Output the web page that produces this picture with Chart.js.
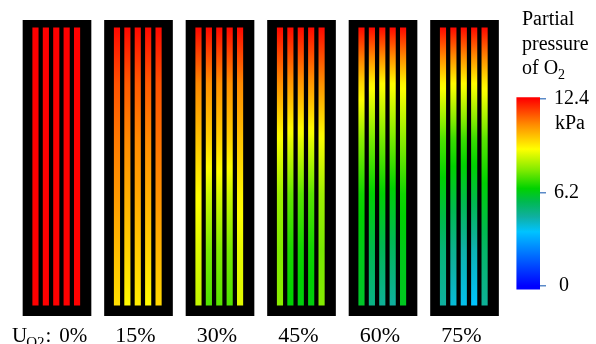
<!DOCTYPE html>
<html>
<head>
<meta charset="utf-8">
<script src="https://cdn.jsdelivr.net/npm/chart.js@4.4.1/dist/chart.umd.min.js"></script>
<style>
  html, body { margin: 0; padding: 0; background: #fff; }
  #wrap { width: 596px; height: 344px; }
</style>
</head>
<body>
<div id="wrap"><canvas id="chart"></canvas></div>
<script>
// O2 utilisation of each panel
const utilizations = ["0%", "15%", "30%", "45%", "60%", "75%"];

// where the profiles were read along the channel (0 = inlet at top, 1 = outlet)
const channelPos = [0, 0.2, 0.4, 0.6, 0.8, 1.0];

// partial pressure of O2 in kPa along each of the 5 channels, one list per panel
const pO2_0 = [
  [12.4, 12.4, 12.4, 12.4, 12.4, 12.4],
  [12.4, 12.4, 12.4, 12.4, 12.4, 12.4],
  [12.4, 12.4, 12.4, 12.4, 12.4, 12.4],
  [12.4, 12.4, 12.4, 12.4, 12.4, 12.4],
  [12.4, 12.4, 12.4, 12.4, 12.4, 12.4]
];
const pO2_15 = [
  [12.3, 11.4, 10.9, 10.5, 10.0, 9.5],
  [12.3, 11.3, 10.7, 10.2, 9.7, 9.1],
  [12.3, 11.3, 10.7, 10.3, 9.8, 9.3],
  [12.3, 11.3, 10.7, 10.2, 9.7, 9.1],
  [12.3, 11.4, 11.0, 10.6, 10.1, 9.6]
];
const pO2_30 = [
  [12.3, 10.7, 9.9, 9.1, 8.7, 8.4],
  [12.3, 10.6, 9.7, 8.5, 7.6, 7.2],
  [12.3, 10.6, 9.7, 8.6, 7.7, 7.3],
  [12.3, 10.6, 9.7, 8.5, 7.6, 7.2],
  [12.3, 10.7, 9.9, 9.2, 8.8, 8.7]
];
const pO2_45 = [
  [12.3, 10.6, 9.0, 8.0, 7.7, 7.8],
  [12.3, 10.5, 8.8, 7.4, 6.7, 6.4],
  [12.3, 10.5, 8.8, 7.3, 6.6, 6.3],
  [12.3, 10.5, 8.8, 7.3, 6.6, 6.3],
  [12.3, 10.6, 9.0, 8.0, 7.6, 7.7]
];
const pO2_60 = [
  [12.3, 9.6, 7.8, 6.6, 6.2, 6.0],
  [12.3, 9.2, 7.6, 6.4, 5.6, 4.9],
  [12.3, 9.1, 7.6, 6.4, 5.5, 4.7],
  [12.3, 9.1, 7.6, 6.3, 5.4, 4.6],
  [12.3, 9.2, 7.8, 6.6, 6.2, 6.1]
];
const pO2_75 = [
  [12.3, 9.2, 7.2, 6.1, 5.1, 4.6],
  [12.3, 9.1, 7.0, 5.9, 4.8, 4.0],
  [12.3, 9.1, 7.0, 5.8, 4.5, 3.8],
  [12.3, 9.1, 7.0, 5.8, 4.4, 3.6],
  [12.3, 9.3, 7.3, 6.2, 5.3, 4.7]
];
const panels = [pO2_0, pO2_15, pO2_30, pO2_45, pO2_60, pO2_75];

// colour bar
const pMax = 12.4;
const colorbarTicks = [0, 6.2, 12.4];

// ---- layout / style ----
const FONT = '"Liberation Serif", "Times New Roman", serif';
const stripePitch = 0.1276;   // x units between channels
const stripeShift = -0.009;
const colorbarX = 5.785;
const yPanel = [-0.0287, 1.0394];  // black plate extends past the channels
const cbRange = [-0.2, 12.45];

// jet-like map
const cmap = [
  [0.00, [0, 0, 255]],
  [0.12, [0, 80, 255]],
  [0.29, [0, 195, 255]],
  [0.37, [15, 175, 160]],
  [0.45, [0, 185, 80]],
  [0.52, [0, 210, 0]],
  [0.62, [130, 235, 0]],
  [0.73, [255, 255, 0]],
  [0.86, [255, 140, 0]],
  [1.00, [255, 0, 0]]
];

function colorFor(v) {
  const t = Math.max(0, Math.min(1, v / pMax));
  for (let i = 0; i < cmap.length - 1; i++) {
    const [t0, c0] = cmap[i];
    const [t1, c1] = cmap[i + 1];
    if (t <= t1) {
      const f = (t - t0) / (t1 - t0);
      const c = c0.map((a, k) => Math.round(a + f * (c1[k] - a)));
      return `rgb(${c[0]},${c[1]},${c[2]})`;
    }
  }
  return 'rgb(255,0,0)';
}

function stripeGradient(ctx) {
  const chart = ctx.chart;
  const ys = chart.scales.y;
  if (!ys || !ctx.raw || !chart.chartArea) return 'red';
  const last = channelPos.length - 1;
  const y0 = ys.getPixelForValue(channelPos[0]);
  const y1 = ys.getPixelForValue(channelPos[last]);
  if (!isFinite(y0) || !isFinite(y1)) return 'red';
  const prof = panels[ctx.raw.panel][ctx.raw.stripe];
  const g = chart.ctx.createLinearGradient(0, y0, 0, y1);
  for (let k = 0; k < last; k++) {
    for (let s = 0; s < 10; s++) {
      const f = s / 10;
      const pos = channelPos[k] + f * (channelPos[k + 1] - channelPos[k]);
      g.addColorStop(pos, colorFor(prof[k] + f * (prof[k + 1] - prof[k])));
    }
  }
  g.addColorStop(1, colorFor(prof[last]));
  return g;
}

function colorbarGradient(ctx) {
  const chart = ctx.chart;
  const yc = chart.scales.yc;
  if (!yc || !chart.chartArea) return 'red';
  const y0 = yc.getPixelForValue(0);
  const y1 = yc.getPixelForValue(pMax);
  if (!isFinite(y0) || !isFinite(y1)) return 'red';
  const g = chart.ctx.createLinearGradient(0, y0, 0, y1);
  cmap.forEach(([t, c]) => g.addColorStop(t, `rgb(${c[0]},${c[1]},${c[2]})`));
  return g;
}

// build bar data from the arrays
const stripeData = [];
panels.forEach((p, i) => {
  p.forEach((prof, j) => {
    stripeData.push({ x: i + (j - 2) * stripePitch + stripeShift, y: [channelPos[0], channelPos[channelPos.length - 1]], panel: i, stripe: j });
  });
});
const plateData = utilizations.map((u, i) => ({ x: i, y: yPanel }));

// text that the axes can't draw (subscripts, title, unit)
const textPlugin = {
  id: 'texts',
  afterDraw(chart) {
    const c = chart.ctx;
    const xs = chart.scales.x;
    const area = chart.chartArea;
    c.save();
    c.fillStyle = '#000';
    c.textBaseline = 'alphabetic';
    c.textAlign = 'left';

    // colour bar title
    const tx = area.right - 18;
    c.font = '20px ' + FONT;
    c.fillText('Partial', tx, 25);
    c.fillText('pressure', tx, 50);
    c.fillText('of O', tx, 74);
    const w = c.measureText('of O').width;
    c.font = '14px ' + FONT;
    c.fillText('2', tx + w, 79);

    // unit under the top tick
    c.font = '20px ' + FONT;
    c.fillText('kPa', area.right + 15, 129);

    // panel labels
    const base = 342;
    utilizations.forEach((u, i) => {
      const cx = xs.getPixelForValue(i) - 3;
      if (i === 0) {
        let x = cx - 42;
        c.font = '21px ' + FONT;
        c.fillText('U', x, base);
        x += c.measureText('U').width - 1;
        c.font = '15px ' + FONT;
        c.fillText('O2', x, base + 5);
        x += c.measureText('O2').width + 1;
        c.font = '21px ' + FONT;
        c.fillText(':', x, base);
        x += c.measureText(':').width + 8;
        c.fillText(u, x, base);
      } else {
        c.font = '22px ' + FONT;
        c.textAlign = 'center';
        c.fillText(u, cx, base);
        c.textAlign = 'left';
      }
    });
    c.restore();
  }
};

new Chart(document.getElementById('chart'), {
  type: 'bar',
  data: {
    datasets: [
      {
        label: 'channels',
        data: stripeData,
        backgroundColor: stripeGradient,
        barThickness: 5.5,
        grouped: false,
        order: 0
      },
      {
        label: 'colour bar',
        data: [{ x: colorbarX, y: cbRange }],
        yAxisID: 'yc',
        backgroundColor: colorbarGradient,
        barThickness: 23.5,
        grouped: false,
        order: 1
      },
      {
        label: 'plates',
        data: plateData,
        backgroundColor: '#000',
        barThickness: 68,
        grouped: false,
        order: 2
      }
    ]
  },
  options: {
    responsive: true,
    maintainAspectRatio: false,
    animation: false,
    events: [],
    layout: { padding: { left: 16, right: 0, top: 18, bottom: 28 } },
    scales: {
      x: { type: 'linear', display: false, min: -0.503, max: 5.926, offset: false },
      y: { display: false, reverse: true, min: yPanel[0], max: yPanel[1] },
      yc: {
        position: 'right',
        min: -1.97,
        max: 17.58,
        afterBuildTicks: (scale) => { scale.ticks = colorbarTicks.map((v) => ({ value: v })); },
        afterFit: (scale) => { scale.width = 56; },
        border: { display: false },
        grid: { drawOnChartArea: false, drawTicks: true, tickLength: 6, color: '#5b8ac8', lineWidth: 1.5 },
        ticks: {
          padding: 8,
          color: '#000',
          font: { family: FONT, size: 20 },
          callback: (v) => (v === 0 ? ' 0' : String(v))
        }
      }
    },
    plugins: {
      legend: { display: false },
      tooltip: { enabled: false }
    }
  },
  plugins: [textPlugin]
});
</script>
</body>
</html>
